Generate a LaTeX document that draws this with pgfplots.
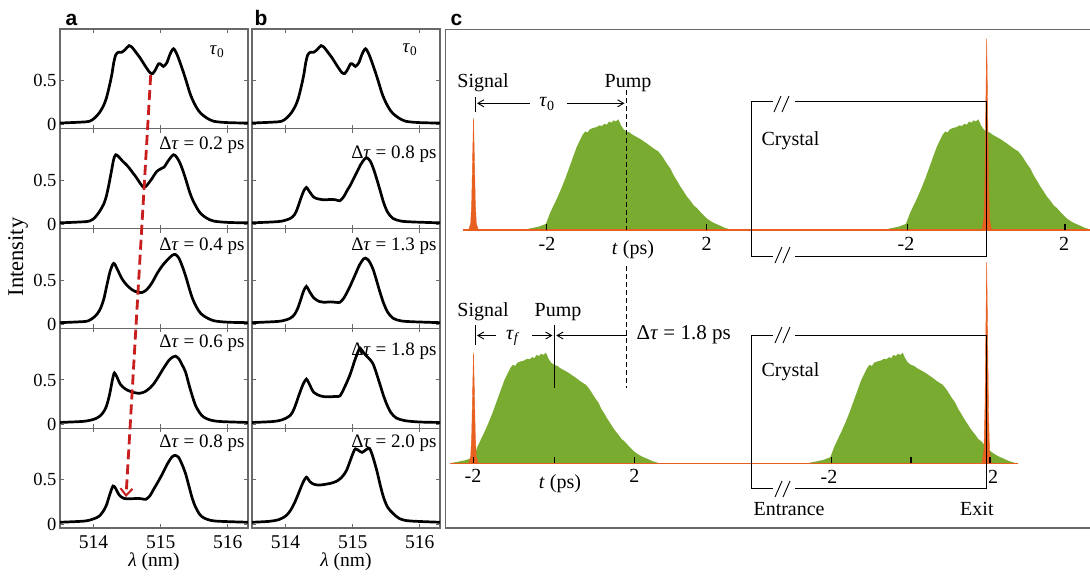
\documentclass[border=0pt]{standalone}
\usepackage{fontspec}
\setmainfont{Liberation Serif}
\newfontfamily\sansfont{Liberation Sans}
\usepackage{pgfplots}
\pgfplotsset{compat=1.18}
\usepackage{pgfplotstable}
\usetikzlibrary{arrows.meta}

\definecolor{axgray}{RGB}{105,105,105}
\definecolor{cgreen}{RGB}{120,171,48}
\definecolor{corange}{RGB}{232,96,32}
\definecolor{cred}{RGB}{200,30,30}

\pgfplotstableread{
x y
513.50 0.02
513.80 0.03
513.94 0.04
514.02 0.08
514.09 0.14
514.15 0.22
514.19 0.30
514.23 0.42
514.27 0.56
514.30 0.70
514.33 0.79
514.37 0.82
514.42 0.82
514.47 0.85
514.53 0.895
514.58 0.87
514.64 0.81
514.69 0.76
514.74 0.70
514.80 0.63
514.84 0.59
514.88 0.58
514.92 0.62
514.97 0.69
515.01 0.68
515.04 0.66
515.09 0.70
515.14 0.80
515.19 0.86
515.24 0.80
515.29 0.70
515.34 0.59
515.39 0.47
515.43 0.37
515.47 0.29
515.53 0.20
515.59 0.135
515.68 0.08
515.79 0.04
516.00 0.025
516.30 0.02
}\specA
\pgfplotstableread{
x y
513.50 0.02
513.80 0.03
513.94 0.04
514.02 0.08
514.09 0.15
514.15 0.23
514.19 0.32
514.23 0.46
514.27 0.62
514.30 0.74
514.33 0.79
514.37 0.77
514.43 0.72
514.51 0.66
514.58 0.59
514.64 0.53
514.70 0.46
514.75 0.42
514.80 0.45
514.86 0.51
514.94 0.60
515.00 0.63
515.05 0.65
515.12 0.73
515.19 0.79
515.24 0.76
515.29 0.69
515.34 0.59
515.39 0.47
515.43 0.37
515.47 0.29
515.53 0.20
515.59 0.13
515.68 0.075
515.79 0.04
516.00 0.025
516.30 0.02
}\specB
\pgfplotstableread{
x y
513.50 0.02
513.80 0.03
513.92 0.04
514.02 0.09
514.09 0.16
514.15 0.28
514.20 0.45
514.25 0.61
514.30 0.69
514.35 0.63
514.42 0.52
514.50 0.44
514.60 0.38
514.72 0.36
514.80 0.40
514.87 0.47
514.95 0.58
515.02 0.66
515.10 0.73
515.17 0.78
515.22 0.79
515.27 0.75
515.32 0.66
515.37 0.55
515.42 0.42
515.47 0.30
515.53 0.20
515.60 0.12
515.70 0.07
515.80 0.04
516.00 0.025
516.30 0.02
}\specC
\pgfplotstableread{
x y
513.50 0.02
513.80 0.03
513.92 0.04
514.02 0.06
514.09 0.09
514.14 0.13
514.19 0.20
514.24 0.34
514.28 0.50
514.31 0.58
514.35 0.53
514.40 0.45
514.47 0.40
514.55 0.37
514.62 0.355
514.69 0.35
514.77 0.37
514.84 0.41
514.89 0.45
514.96 0.53
515.04 0.63
515.12 0.72
515.18 0.76
515.22 0.77
515.27 0.74
515.32 0.67
515.37 0.59
515.42 0.45
515.47 0.32
515.52 0.21
515.58 0.13
515.64 0.08
515.75 0.045
515.90 0.03
516.30 0.02
}\specD
\pgfplotstableread{
x y
513.50 0.02
513.80 0.03
513.92 0.04
514.04 0.07
514.10 0.10
514.14 0.14
514.19 0.21
514.24 0.33
514.29 0.43
514.33 0.40
514.38 0.33
514.45 0.29
514.55 0.285
514.65 0.29
514.72 0.285
514.78 0.28
514.84 0.32
514.90 0.40
514.94 0.45
515.02 0.56
515.10 0.68
515.17 0.76
515.22 0.775
515.27 0.75
515.32 0.67
515.37 0.57
515.42 0.43
515.47 0.29
515.52 0.19
515.58 0.11
515.64 0.07
515.75 0.04
515.90 0.03
516.30 0.02
}\specE
\pgfplotstableread{
x y
513.50 0.02
513.80 0.03
513.95 0.04
514.07 0.07
514.13 0.11
514.17 0.17
514.22 0.28
514.27 0.38
514.31 0.42
514.35 0.38
514.42 0.31
514.49 0.29
514.58 0.28
514.67 0.285
514.75 0.28
514.81 0.27
514.87 0.32
514.92 0.39
514.96 0.44
515.04 0.56
515.12 0.68
515.18 0.745
515.21 0.755
515.26 0.72
515.31 0.63
515.36 0.51
515.41 0.38
515.46 0.25
515.52 0.14
515.60 0.07
515.72 0.04
515.90 0.03
516.30 0.02
}\specG
\pgfplotstableread{
x y
513.50 0.02
513.80 0.03
513.95 0.04
514.07 0.07
514.13 0.11
514.18 0.18
514.23 0.29
514.27 0.38
514.31 0.43
514.35 0.38
514.42 0.30
514.50 0.26
514.57 0.25
514.67 0.255
514.75 0.25
514.81 0.25
514.87 0.30
514.92 0.37
514.96 0.43
515.03 0.55
515.10 0.67
515.16 0.74
515.19 0.75
515.24 0.72
515.30 0.63
515.35 0.51
515.40 0.38
515.46 0.24
515.52 0.14
515.60 0.07
515.72 0.04
515.90 0.03
516.30 0.02
}\specH
\pgfplotstableread{
x y
513.50 0.02
513.80 0.03
513.95 0.05
514.07 0.10
514.13 0.18
514.20 0.33
514.26 0.45
514.31 0.51
514.35 0.46
514.42 0.36
514.52 0.32
514.60 0.31
514.67 0.31
514.75 0.315
514.81 0.32
514.88 0.42
514.96 0.56
515.03 0.72
515.08 0.82
515.11 0.86
515.16 0.81
515.22 0.76
515.27 0.72
515.31 0.67
515.36 0.56
515.41 0.44
515.46 0.32
515.51 0.22
515.57 0.13
515.65 0.07
515.78 0.04
516.00 0.025
516.30 0.02
}\specI
\pgfplotstableread{
x y
513.50 0.02
513.75 0.03
513.90 0.05
514.00 0.09
514.07 0.15
514.14 0.25
514.20 0.36
514.26 0.47
514.31 0.53
514.36 0.48
514.42 0.45
514.50 0.44
514.60 0.45
514.67 0.46
514.75 0.48
514.81 0.51
514.86 0.55
514.91 0.61
514.96 0.71
515.01 0.81
515.04 0.85
515.09 0.83
515.14 0.81
515.20 0.84
515.25 0.855
515.30 0.76
515.36 0.60
515.41 0.44
515.46 0.30
515.52 0.19
515.60 0.12
515.70 0.06
515.85 0.035
516.30 0.02
}\specJ
\pgfplotstableread{
t I
-2.60 0.00
-2.40 0.015
-2.20 0.03
-2.02 0.055
-1.92 0.15
-1.83 0.22
-1.75 0.28
-1.64 0.37
-1.54 0.46
-1.43 0.57
-1.33 0.67
-1.25 0.75
-1.17 0.81
-1.10 0.86
-1.04 0.89
-0.98 0.88
-0.92 0.91
-0.85 0.92
-0.75 0.93
-0.68 0.945
-0.62 0.94
-0.55 0.96
-0.50 0.95
-0.44 0.98
-0.38 0.97
-0.33 0.99
-0.27 0.98
-0.21 1.00
-0.15 0.95
-0.08 0.91
0.00 0.89
0.08 0.88
0.15 0.86
0.25 0.84
0.35 0.82
0.45 0.795
0.55 0.77
0.62 0.75
0.70 0.73
0.79 0.71
0.88 0.67
0.95 0.63
1.02 0.59
1.10 0.55
1.18 0.49
1.25 0.45
1.33 0.40
1.42 0.35
1.50 0.305
1.60 0.26
1.68 0.22
1.75 0.20
1.85 0.16
1.93 0.13
2.00 0.105
2.10 0.08
2.20 0.06
2.33 0.04
2.45 0.02
2.63 0.00
}\pump
\pgfplotstableread{
t I
-0.12 0
-0.07 0.06
-0.045 0.25
-0.025 0.6
0 1
0.025 0.6
0.045 0.25
0.07 0.06
0.12 0
}\spike

\pgfplotsset{
  spec/.style={scale only axis, width=188pt, height=99.8pt,
    xmin=513.5, xmax=516.3, ymin=-0.045, ymax=1.083,
    xtick={514,515,516}, ytick={0,0.5}, xticklabels={}, yticklabels={},
    tick align=inside, major tick length=4pt,
    axis line style={draw=axgray, line width=1.3pt},
    every tick/.append style={axgray, line width=1pt},
    yticklabel style={font=\fontsize{18.5}{20}\selectfont},
    xticklabel style={font=\fontsize{19.5}{21}\selectfont, yshift=-4pt},
    anchor=north west},
  curve/.style={black, line width=2.7pt, smooth, tension=0.5},
  crow/.style={scale only axis, width=643pt, xmin=-4.5425, xmax=11.5325,
    hide axis, clip=false, anchor=north west},
  pumpfill/.style={fill=cgreen, draw=none},
  spk/.style={fill=corange, draw=corange, line width=0.4pt},
  base/.style={corange, line width=1.3pt},
}
\newcommand{\dt}[1]{Δ\textit{τ} = #1 ps}

\begin{document}
\begin{tikzpicture}[x=1pt,y=1pt]
\path[use as bounding box] (0,0) rectangle (1090,-579);

% ---------- panel a ----------
\begin{axis}[spec, at={(60pt,-29pt)}, yticklabels={0,0.5}]
\addplot[curve] table[x=x,y=y]{\specA};
\end{axis}
\begin{axis}[spec, at={(60pt,-128.8pt)}, yticklabels={0,0.5}]
\addplot[curve] table[x=x,y=y]{\specB};
\end{axis}
\begin{axis}[spec, at={(60pt,-228.6pt)}, yticklabels={0,0.5}]
\addplot[curve] table[x=x,y=y]{\specC};
\end{axis}
\begin{axis}[spec, at={(60pt,-328.4pt)}, yticklabels={0,0.5}]
\addplot[curve] table[x=x,y=y]{\specD};
\end{axis}
\begin{axis}[spec, at={(60pt,-428.2pt)}, yticklabels={0,0.5}, xticklabels={514,515,516}]
\addplot[curve] table[x=x,y=y]{\specE};
\end{axis}

% ---------- panel b ----------
\begin{axis}[spec, at={(252pt,-29pt)}]
\addplot[curve] table[x=x,y=y]{\specA};
\end{axis}
\begin{axis}[spec, at={(252pt,-128.8pt)}]
\addplot[curve] table[x=x,y=y]{\specG};
\end{axis}
\begin{axis}[spec, at={(252pt,-228.6pt)}]
\addplot[curve] table[x=x,y=y]{\specH};
\end{axis}
\begin{axis}[spec, at={(252pt,-328.4pt)}]
\addplot[curve] table[x=x,y=y]{\specI};
\end{axis}
\begin{axis}[spec, at={(252pt,-428.2pt)}, xticklabels={514,515,516}]
\addplot[curve] table[x=x,y=y]{\specJ};
\end{axis}

% ---------- panel c, top row ----------
\begin{axis}[crow, at={(445pt,-29pt)}, height=249pt, ymin=-0.4336, ymax=1.8157]
\addplot[pumpfill] table[x=t,y=I]{\pump} \closedcycle;
\addplot[pumpfill] table[x expr=\thisrow{t}+9,y=I]{\pump} \closedcycle;
\addplot[base] coordinates {(-4.09,0) (11.65,0)};
\addplot[spk] table[x expr=\thisrow{t}-3.83,y expr=1.01*\thisrow{I}]{\spike} \closedcycle;
\addplot[spk] table[x expr=\thisrow{t}+9,y expr=1.73*\thisrow{I}]{\spike} \closedcycle;
\end{axis}
% ---------- panel c, bottom row ----------
\begin{axis}[crow, at={(445pt,-278pt)}, height=250pt, ymin=-0.585, ymax=1.6754]
\addplot[pumpfill] table[x expr=\thisrow{t}-1.81,y=I]{\pump} \closedcycle;
\addplot[pumpfill] table[x expr=\thisrow{t}+7.11,y=I]{\pump} \closedcycle;
\addplot[base] coordinates {(-4.42,0) (9.79,0)};
\addplot[spk] table[x expr=\thisrow{t}-3.83,y expr=1.0*\thisrow{I}]{\spike} \closedcycle;
\addplot[spk] table[x expr=\thisrow{t}+9,y expr=1.82*\thisrow{I}]{\spike} \closedcycle;
\end{axis}

% ---------- annotations a, b ----------
\node[font=\sansfont\bfseries\fontsize{21}{22}\selectfont, anchor=base west] at (62,-25) {a};
\node[font=\sansfont\bfseries\fontsize{21}{22}\selectfont, anchor=base west] at (251,-25) {b};
\node[font=\sansfont\bfseries\fontsize{21}{22}\selectfont, anchor=base west] at (447,-25) {c};

\node[rotate=90, font=\fontsize{22.5}{24}\selectfont] at (18,-257) {Intensity};
\node[font=\fontsize{19.5}{21}\selectfont] at (154,-562) {\textit{λ} (nm)};
\node[font=\fontsize{19.5}{21}\selectfont] at (346,-562) {\textit{λ} (nm)};

\begin{scope}[font=\fontsize{19}{21}\selectfont]
\node at (217,-52) {\textit{τ}\textsubscript{0}};
\node[anchor=east] at (248,-145) {\dt{0.2}};
\node[anchor=east] at (248,-246) {\dt{0.4}};
\node[anchor=east] at (248,-343.5) {\dt{0.6}};
\node[anchor=east] at (248,-443.5) {\dt{0.8}};
\node at (410,-50) {\textit{τ}\textsubscript{0}};
\node[anchor=east] at (440,-154) {\dt{0.8}};
\node[anchor=east] at (440,-246) {\dt{1.3}};
\node[anchor=east] at (440,-351) {\dt{1.8}};
\node[anchor=east] at (440,-443.5) {\dt{2.0}};
\end{scope}

\draw[cred, line width=2.8pt, dash pattern=on 10pt off 5pt,
  -{Straight Barb[length=7pt,width=12pt,line width=2pt]}] (150.7,-75) -- (126,-497);

% ---------- annotations c ----------
\draw[axgray, line width=1.3pt] (1095,-29.5) -- (445.8,-29.5) -- (445.8,-528) -- (1095,-528);

% baseline ticks
\begin{scope}[black, line width=1.1pt]
\foreach \xx in {546.7,706.7,907.7,1065} \draw (\xx,-230) -- (\xx,-224);
\foreach \xx in {473.3,554.3,634.3,831.7,911,990} \draw (\xx,-463.3) -- (\xx,-457.3);
\end{scope}

% crystal boxes
\begin{scope}[black, line width=0.9pt]
\draw (773,-101.7) -- (751,-101.7) -- (751,-256.7) -- (773,-256.7);
\draw (795,-101.7) -- (986.7,-101.7) -- (986.7,-256.7) -- (795,-256.7);
\draw (774,-112) -- (781,-96);  \draw (782,-112) -- (789,-96);
\draw (775,-263) -- (782,-247); \draw (783,-263) -- (790,-247);
\draw (773,-335) -- (751,-335) -- (751,-488.3) -- (773,-488.3);
\draw (795,-335) -- (986.7,-335) -- (986.7,-488.3) -- (795,-488.3);
\draw (775,-343) -- (782,-327); \draw (783,-343) -- (790,-327);
\draw (775,-497) -- (782,-481); \draw (783,-497) -- (790,-481);
% dashed pump reference
\draw[dash pattern=on 5pt off 3pt] (626.7,-90) -- (626.7,-230);
\draw[dash pattern=on 5pt off 3pt] (626.7,-266) -- (626.7,-388);
% bottom pump line
\draw (554.3,-325) -- (554.3,-388);
% signal bars
\draw (475,-97) -- (475,-112);
\draw (475,-325) -- (475,-345);
% arrows
\draw[-{Straight Barb[length=6pt,width=7pt]}] (530,-103.3) -- (477,-103.3);
\draw[-{Straight Barb[length=6pt,width=7pt]}] (566.7,-103.3) -- (624.5,-103.3);
\draw[-{Straight Barb[length=6pt,width=7pt]}] (496,-335.5) -- (477,-335.5);
\draw[-{Straight Barb[length=6pt,width=7pt]}] (532,-335.5) -- (552.5,-335.5);
\draw[-{Straight Barb[length=6pt,width=7pt]}] (626.7,-335.5) -- (556.3,-335.5);
\end{scope}

\begin{scope}[font=\fontsize{20}{22}\selectfont]
\node[anchor=base] at (483,-87) {Signal};
\node[anchor=base] at (628,-87) {Pump};
\node at (547,-104) {\textit{τ}\textsubscript{0}};
\node at (547,-243.5) {-2};
\node at (706.7,-243.5) {2};
\node at (633,-250) {\textit{t} (ps)};
\node at (906,-244) {-2};
\node at (1064,-244) {2};
\node[anchor=base west] at (758,-145) {Crystal};
\node[anchor=base] at (483,-316) {Signal};
\node[anchor=base] at (558,-316) {Pump};
\node at (513,-338) {\textit{τ}\textsubscript{\textit{f}}};
\node[anchor=west, font=\fontsize{21}{23}\selectfont] at (633,-335) {\dt{1.8}};
\node at (473,-476) {-2};
\node at (634.3,-476) {2};
\node at (560,-484) {\textit{t} (ps)};
\node at (829,-477) {-2};
\node at (993,-477) {2};
\node[anchor=base west] at (758,-376) {Crystal};
\node[anchor=base west] at (750,-515) {Entrance};
\node[anchor=base west] at (956.7,-515) {Exit};
\end{scope}
\end{tikzpicture}
\end{document}
